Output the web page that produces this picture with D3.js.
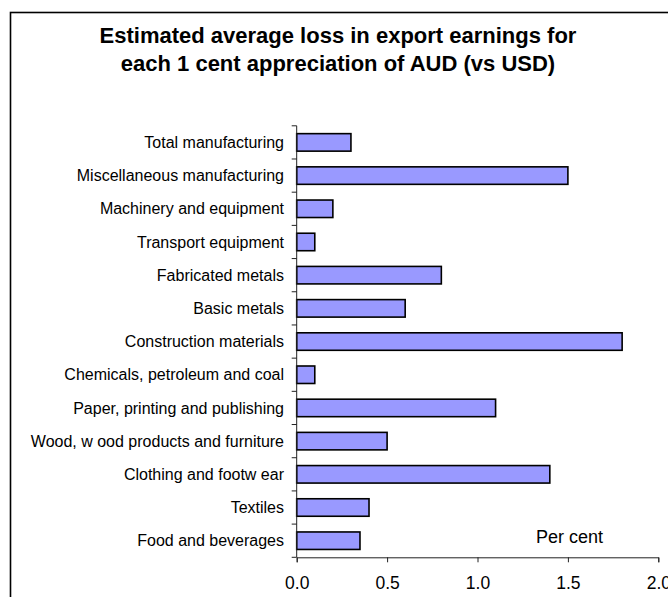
<!DOCTYPE html>
<html>
<head>
<meta charset="utf-8">
<script src="https://cdn.jsdelivr.net/npm/d3@7"></script>
<style>
  html, body { margin: 0; padding: 0; background: #fff; }
  svg { display: block; font-family: Arial, "Liberation Sans", Helvetica, sans-serif; }
</style>
</head>
<body>
<svg id="chart" width="668" height="597"></svg>
<script>
// Industries, listed top to bottom
const categories = [
  "Total manufacturing",
  "Miscellaneous manufacturing",
  "Machinery and equipment",
  "Transport equipment",
  "Fabricated metals",
  "Basic metals",
  "Construction materials",
  "Chemicals, petroleum and coal",
  "Paper, printing and publishing",
  "Wood, w ood products and furniture",
  "Clothing and footw ear",
  "Textiles",
  "Food and beverages"
];

// Estimated loss in export earnings (per cent) per 1 cent AUD appreciation
const values = [0.3, 1.5, 0.2, 0.1, 0.8, 0.6, 1.8, 0.1, 1.1, 0.5, 1.4, 0.4, 0.35];

const xTicks = [0, 0.5, 1.0, 1.5, 2.0];
const titleLines = [
  "Estimated average loss in export earnings for",
  "each 1 cent appreciation of AUD (vs USD)"
];
const unitLabel = "Per cent";

const svg = d3.select("#chart");

// Chart frame
svg.append("rect")
  .attr("x", 10.5).attr("y", 12.5)
  .attr("width", 720).attr("height", 720)
  .attr("fill", "none")
  .attr("stroke", "#000")
  .attr("stroke-width", 1.6);

// Title
svg.append("g").selectAll("text")
  .data(titleLines)
  .join("text")
  .attr("x", 338)
  .attr("y", (d, i) => 43.3 + i * 27.2)
  .attr("text-anchor", "middle")
  .attr("font-size", 22)
  .attr("font-weight", "bold")
  .attr("fill", "#000")
  .text(d => d);

const x = d3.scaleLinear().domain([0, 2]).range([296.7, 658.3]);
const y = d3.scaleBand()
  .domain(categories)
  .range([125.8, 557.3])
  .paddingInner(0.473)
  .paddingOuter(0.2365);

const step = y.step();
const x0 = x(0);
const yBottom = y.range()[1];

// Bars
svg.append("g").selectAll("rect")
  .data(categories.map((c, i) => ({ c, v: values[i] })))
  .join("rect")
  .attr("x", x0)
  .attr("y", d => y(d.c))
  .attr("width", d => x(d.v) - x0)
  .attr("height", y.bandwidth())
  .attr("fill", "#9999ff")
  .attr("stroke", "#000")
  .attr("stroke-width", 1.6);

// Category axis: line with ticks on band boundaries
const yAxis = svg.append("g").attr("stroke", "#222").attr("stroke-width", 1);
yAxis.append("line")
  .attr("x1", x0).attr("x2", x0)
  .attr("y1", y.range()[0]).attr("y2", yBottom);
yAxis.selectAll("line.tick")
  .data(d3.range(categories.length + 1))
  .join("line")
  .attr("class", "tick")
  .attr("x1", x0 - 5).attr("x2", x0)
  .attr("y1", i => y.range()[0] + i * step)
  .attr("y2", i => y.range()[0] + i * step);

// Category labels
svg.append("g").selectAll("text")
  .data(categories)
  .join("text")
  .attr("x", 284)
  .attr("y", d => y(d) + y.bandwidth() / 2)
  .attr("dy", "0.35em")
  .attr("text-anchor", "end")
  .attr("font-size", 16)
  .attr("fill", "#000")
  .text(d => d);

// Value axis
const xAxis = svg.append("g")
  .attr("transform", `translate(0,${yBottom})`)
  .call(d3.axisBottom(x)
    .tickValues(xTicks)
    .tickFormat(d3.format(".1f"))
    .tickSize(5)
    .tickPadding(14));
xAxis.select(".domain").attr("stroke", "#222");
xAxis.selectAll(".tick line").attr("stroke", "#222");
xAxis.selectAll(".tick text")
  .attr("font-size", 17.5)
  .attr("font-family", "Arial, 'Liberation Sans', sans-serif")
  .attr("fill", "#000");

// Unit label
svg.append("text")
  .attr("x", 536)
  .attr("y", 543)
  .attr("text-anchor", "start")
  .attr("font-size", 18)
  .attr("fill", "#000")
  .text(unitLabel);
</script>
</body>
</html>
